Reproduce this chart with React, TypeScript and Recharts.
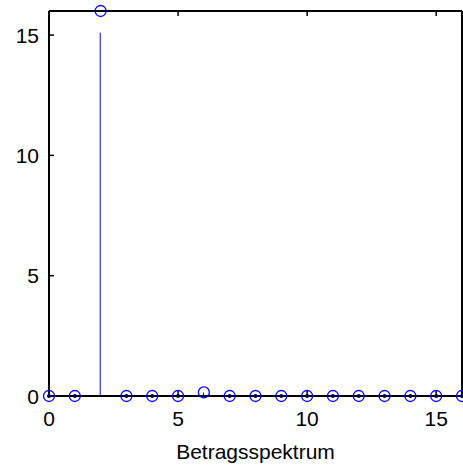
import React from 'react'
import { ComposedChart, Bar, Scatter, XAxis, YAxis } from 'recharts'

// FFT bin index and magnitude
const bins = [0, 1, 2, 3, 4, 5, 6, 7, 8, 9, 10, 11, 12, 13, 14, 15, 16]
const magnitude = [0, 0, 16, 0, 0, 0, 0.15, 0, 0, 0, 0, 0, 0, 0, 0, 0, 0]
// visible top of each stem line (the big one stops short of its marker)
const stemEnds = [0, 0, 15.1, 0, 0, 0, 0.15, 0, 0, 0, 0, 0, 0, 0, 0, 0, 0]
const xTicks = [0, 5, 10, 15]
const yTicks = [0, 5, 10, 15]
const xLabel = 'Betragsspektrum'

const data = bins.map((k, i) => ({ k, mag: magnitude[i], stem: stemEnds[i] }))

const BLUE = '#0000ff'
const FONT = '"Liberation Sans", Arial, sans-serif'
const FS = 21
const TICK = 5

const BottomTick = ({ x, y, payload }: any) => (
  <g>
    <line x1={x} x2={x} y1={y - 12} y2={y - 12 - TICK} stroke="#000" strokeWidth={1.5} />
    <text x={x} y={y} dy={18} textAnchor="middle" fontFamily={FONT} fontSize={FS} fill="#000">
      {payload.value}
    </text>
  </g>
)

const LeftTick = ({ x, y, payload }: any) => (
  <g>
    <line x1={x + 10} x2={x + 10 + TICK} y1={y} y2={y} stroke="#000" strokeWidth={1.5} />
    <text x={x} y={y} dy={7.5} textAnchor="end" fontFamily={FONT} fontSize={FS} fill="#000">
      {payload.value}
    </text>
  </g>
)

const TopTick = ({ x, y }: any) => (
  <line x1={x} x2={x} y1={y} y2={y + TICK} stroke="#000" strokeWidth={1.5} />
)

const RightTick = ({ x, y }: any) => (
  <line x1={x} x2={x - TICK} y1={y} y2={y} stroke="#000" strokeWidth={1.5} />
)

const StemHead = (props: any) => {
  const { cx, cy, payload, node } = props
  const v = payload && payload.mag !== undefined ? payload.mag : node ? node.y : 1
  return (
    <g>
      <circle cx={cx} cy={cy} r={5.5} fill="none" stroke={BLUE} strokeWidth={1.3} />
      {v === 0 && <circle cx={cx} cy={cy} r={2} fill="#000050" />}
    </g>
  )
}

export default function App() {
  const axisLine = { stroke: '#000', strokeWidth: 2 }
  return (
    <div style={{ position: 'absolute', left: 0, top: 0, background: '#fff' }}>
      <ComposedChart width={463} height={467} data={data} margin={{ top: 10, right: 0, bottom: 0, left: 0 }}>
        <XAxis
          dataKey="k"
          type="number"
          domain={[0, 16]}
          ticks={xTicks}
          height={71}
          tickSize={0}
          tickMargin={12}
          tickLine={false}
          axisLine={axisLine}
          tick={<BottomTick />}
          label={{ value: xLabel, position: 'insideBottom', offset: 8, fontFamily: FONT, fontSize: FS, fill: '#000' }}
        />
        <XAxis
          xAxisId="top"
          dataKey="k"
          orientation="top"
          type="number"
          domain={[0, 16]}
          ticks={xTicks}
          height={1}
          tickSize={0}
          tickMargin={0}
          tickLine={false}
          axisLine={axisLine}
          tick={<TopTick />}
        />
        <YAxis
          type="number"
          domain={[0, 16]}
          ticks={yTicks}
          width={49}
          tickSize={0}
          tickMargin={10}
          tickLine={false}
          axisLine={axisLine}
          tick={<LeftTick />}
        />
        <YAxis
          yAxisId="right"
          orientation="right"
          type="number"
          domain={[0, 16]}
          ticks={yTicks}
          width={1}
          tickSize={0}
          tickMargin={0}
          tickLine={false}
          axisLine={axisLine}
          tick={<RightTick />}
        />
        <Bar dataKey="stem" barSize={1} fill={BLUE} isAnimationActive={false} />
        <Scatter dataKey="mag" shape={<StemHead />} isAnimationActive={false} />
      </ComposedChart>
    </div>
  )
}
